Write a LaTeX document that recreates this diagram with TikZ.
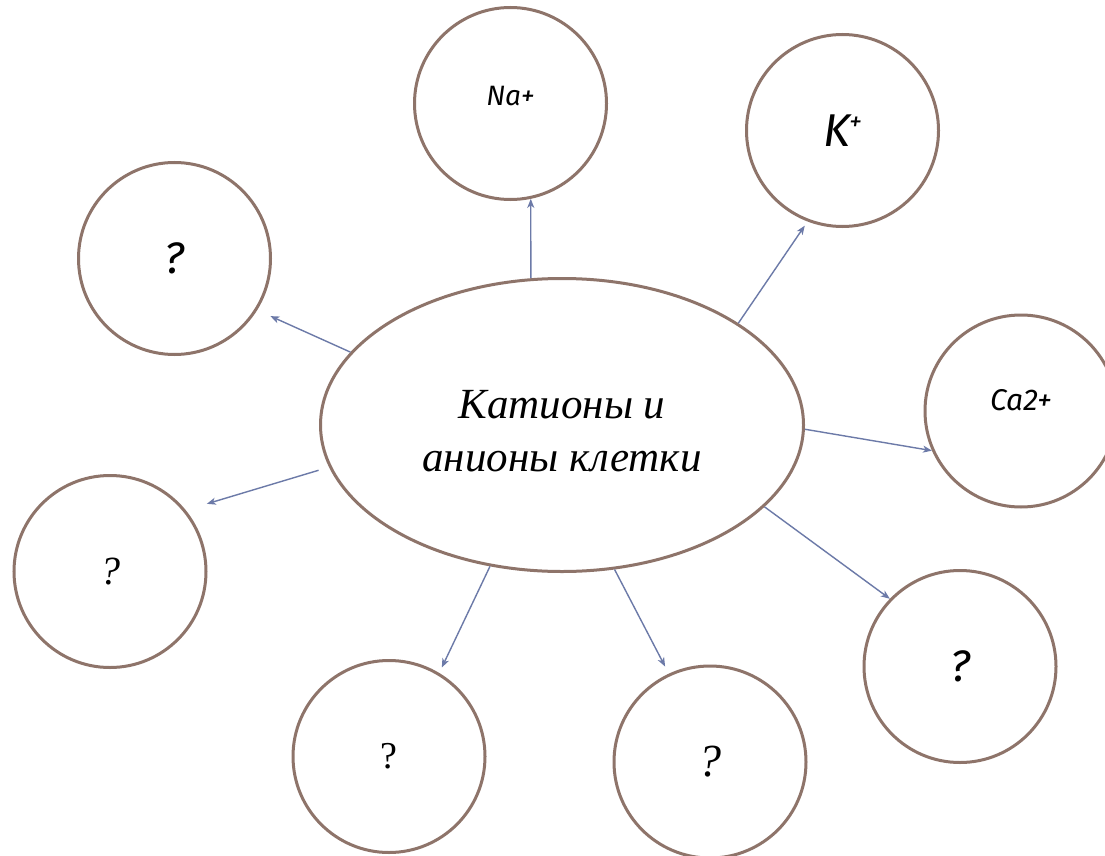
\documentclass[tikz,border=0pt]{standalone}
\usepackage{fontspec}
\setmainfont{Liberation Serif}
\newfontfamily\gs{Fira Sans}
\usetikzlibrary{shapes.geometric,arrows.meta}
\definecolor{ring}{RGB}{142,116,106}
\definecolor{arr}{RGB}{108,122,168}
\tikzset{
  ion/.style={circle,draw=ring,line width=3pt,minimum size=192pt,inner sep=0pt,fill=white},
  link/.style={draw=arr,line width=1.4pt,-{Stealth[length=9pt,width=7pt,inset=2.5pt]}},
}
\begin{document}
\begin{tikzpicture}[x=1pt,y=-1pt]
\useasboundingbox (0,0) rectangle (1105,856);
\clip (0,0) rectangle (1105,856);
\fill[white] (0,0) rectangle (1105,856);
\node[ellipse,draw=ring,line width=3pt,minimum width=483pt,minimum height=293pt,inner sep=0pt] (c) at (562,425) {};
\node[align=center,inner sep=0pt,font=\fontsize{43}{53}\selectfont\itshape] (ct) at (562,431) {Катионы и\\анионы клетки};
\node[ion,font=\gs\itshape\fontsize{28}{30}\selectfont] (na) at (510.5,103.5) {\raisebox{-2.2pt}[0pt][0pt]{Na+}};
\node[ion,font=\gs\itshape\fontsize{46}{48}\selectfont] (k) at (842.5,130.5) {K\kern-1pt\raisebox{16pt}{\fontsize{26}{28}\selectfont+}};
\node[ion,font=\gs\itshape\fontsize{44}{48}\selectfont] (tl) at (174.5,258.5) {?};
\node[ion,font=\gs\itshape\fontsize{30}{32}\selectfont] (ca) at (1021,411) {\raisebox{0.5pt}[0pt][0pt]{Ca2+}};
\node[ion,font=\itshape\fontsize{40}{44}\selectfont] (lq) at (110,571.5) {?};
\node[ion,font=\fontsize{38}{42}\selectfont] (bq) at (389,756.5) {?};
\node[ion,font=\itshape\fontsize{46}{50}\selectfont] (mq) at (710,762) {?};
\node[ion,font=\gs\itshape\fontsize{44}{48}\selectfont] (rq) at (960,666.5) {?};
\path[link] (c.102) -- (na.-78);
\path[link,shorten >=5pt] (c.30) -- (k.249);
\path[link,shorten >=14.5pt] (c.161) -- (tl.-32);
\path[link] (c.-1) -- (ca.204);
\path[link] (c.-22) -- (rq.136.5);
\path[link,shorten >=8pt] (c.-70.5) -- (mq.115);
\path[link,shorten >=6pt] (c.-117.6) -- (bq.59.6);
\path[link,shorten >=22pt] ([xshift=-14pt,yshift=3.5pt]c.-168) -- (lq.39);
\end{tikzpicture}
\end{document}
